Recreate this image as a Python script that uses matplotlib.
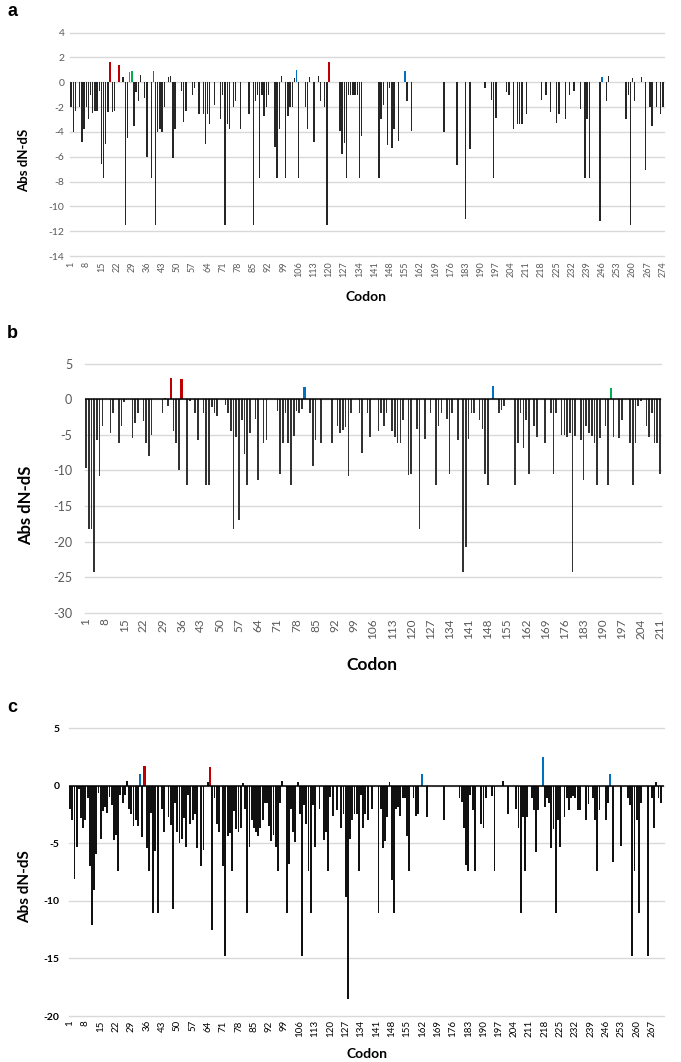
import numpy as np
import matplotlib.pyplot as plt

plt.rcParams['font.family'] = ['Lato', 'DejaVu Sans']
plt.rcParams['axes.unicode_minus'] = False

# ---- panel a: codon / Abs dN-dS (codons not listed have no bar) ----
a_codon = [
    1, 2, 3, 5, 6, 7, 8, 9, 10, 11,
    12, 13, 14, 15, 16, 17, 18, 19, 20, 21,
    23, 25, 26, 27, 28, 29, 30, 31, 32, 33,
    35, 36, 38, 39, 40, 41, 42, 43, 44, 46,
    47, 48, 49, 52, 53, 54, 57, 58, 60, 62,
    63, 64, 65, 67, 70, 71, 72, 73, 74, 76,
    77, 79, 83, 85, 86, 87, 88, 89, 90, 91,
    92, 95, 96, 97, 98, 100, 101, 102, 103, 104,
    105, 106, 109, 110, 111, 113, 115, 116, 118, 119,
    120, 125, 126, 127, 128, 129, 130, 131, 132, 133,
    134, 135, 143, 144, 145, 147, 148, 149, 150, 152,
    155, 156, 158, 173, 179, 183, 185, 192, 195, 196,
    197, 202, 203, 205, 207, 208, 209, 211, 218, 220,
    222, 225, 226, 229, 231, 233, 236, 238, 239, 240,
    245, 246, 248, 249, 257, 258, 259, 260, 261, 264,
    266, 268, 269, 271, 273, 274]
a_value = [
    -2.0, -4.0, -2.3, -2.0, -4.8, -3.8, -2.0, -3.0, -1.0, -2.5,
    -2.3, -2.3, -0.7, -6.6, -7.7, -5.0, -2.4, 1.6, -2.4, -2.3,
    1.4, 0.4, -11.5, -4.5, 0.8, 0.9, -3.5, -0.8, -1.5, 0.6,
    -1.3, -6.0, -7.7, 0.9, -11.5, -4.0, -3.8, -4.0, -2.0, 0.4,
    0.5, -6.1, -3.8, -0.7, -3.2, -2.3, -1.0, -0.5, -2.6, -2.6,
    -5.0, -2.6, -3.4, -1.8, -3.0, -1.0, -11.5, -3.4, -3.8, -2.0,
    -1.5, -3.8, -2.6, -11.5, -1.5, -1.0, -7.7, -1.0, -2.7, -2.0,
    -1.0, -5.2, -7.7, -3.8, 0.5, -7.7, -2.7, -2.0, -2.0, 0.3,
    1.0, -7.7, -2.0, -3.8, 0.4, -4.8, 0.5, -1.5, -2.0, -11.5,
    1.6, -3.9, -5.8, -4.9, -7.7, -1.0, -1.0, -1.0, -1.0, -1.0,
    -7.7, -4.3, -7.7, -3.0, -1.8, -5.1, -0.5, -5.3, -3.8, -4.7,
    0.9, -1.5, -3.9, -4.0, -6.7, -11.0, -5.4, -0.5, -1.4, -7.7,
    -2.9, -0.8, -1.0, -3.8, -3.4, -3.4, -3.4, -2.6, -1.4, -1.0,
    -2.4, -3.3, -2.6, -3.0, -1.0, -0.7, -2.2, -7.7, -3.0, -7.7,
    -11.2, 0.4, -1.5, 0.5, -3.0, -1.0, -11.5, 0.3, -1.5, 0.4,
    -7.1, -2.0, -3.5, -2.0, -2.6, -2.0]
a_red = [19, 23, 120]
a_green = [28, 29]
a_blue = [39, 105, 155, 246]

# ---- panel b ----
b_codon = [
    1, 2, 3, 4, 5, 6, 7, 10, 11, 13,
    14, 15, 18, 19, 20, 22, 23, 24, 25, 29,
    30, 31, 32, 33, 34, 35, 36, 38, 39, 41,
    42, 44, 45, 46, 47, 48, 49, 52, 53, 54,
    55, 56, 57, 58, 59, 60, 61, 63, 64, 66,
    67, 71, 72, 73, 74, 75, 76, 77, 78, 79,
    80, 81, 83, 84, 85, 87, 91, 93, 94, 95,
    96, 97, 98, 101, 102, 104, 105, 108, 109, 110,
    111, 113, 114, 115, 116, 117, 119, 120, 122, 123,
    125, 127, 129, 130, 131, 133, 134, 135, 137, 139,
    140, 141, 142, 143, 145, 146, 147, 148, 150, 152,
    153, 154, 158, 159, 160, 161, 162, 163, 165, 166,
    169, 171, 172, 173, 175, 176, 177, 178, 179, 180,
    182, 183, 184, 185, 186, 187, 188, 189, 191, 192,
    193, 194, 196, 197, 200, 201, 202, 203, 204, 206,
    207, 208, 209, 210, 211]
b_value = [
    -9.6, -18.2, -18.2, -24.3, -5.7, -10.8, -3.8, -4.8, -2.0, -6.1,
    -3.8, -0.4, -5.5, -3.3, -2.0, -3.0, -6.1, -8.0, -5.0, -2.0,
    0.2, -1.0, 3.0, -4.5, -6.1, -10.0, 2.8, -12.1, -0.2, -2.0,
    -5.7, -2.0, -12.1, -12.1, -1.1, -2.0, -2.3, -0.8, -2.0, -4.4,
    -18.2, -5.3, -17.0, -2.9, -7.7, -12.1, -4.7, -2.8, -11.4, -6.1,
    -5.7, -1.6, -10.5, -6.1, -2.0, -6.1, -12.1, -5.2, -1.6, -2.0,
    -1.4, 1.7, -2.0, -9.4, -5.7, -6.1, -6.1, -3.8, -4.7, -4.3,
    -3.9, -10.8, -2.0, -2.0, -7.6, -2.0, -5.3, -4.4, -2.0, -3.8,
    -2.0, -4.4, -5.3, -6.1, -6.1, -2.9, -10.7, -10.5, -4.2, -18.2,
    -5.6, -2.0, -12.1, -3.8, -2.0, -2.8, -10.5, -2.0, -5.7, -24.3,
    -20.7, -5.6, -2.0, -2.0, -2.9, -4.2, -10.5, -12.1, 1.9, -2.0,
    -1.5, -0.9, -12.1, -6.1, -2.0, -6.9, -2.9, -10.5, -3.8, -5.3,
    -6.1, -2.0, -10.5, -2.0, -5.0, -5.0, -5.3, -4.8, -24.3, -5.2,
    -5.7, -11.4, -3.8, -4.7, -5.2, -6.1, -12.1, -5.5, -3.8, -12.1,
    1.5, -5.3, -5.5, -2.9, -6.1, -12.1, -6.1, -0.9, -0.2, -3.8,
    -5.3, -2.0, -6.1, -6.1, -10.5]
b_red = [32, 36]
b_green = [193]
b_blue = [81, 150]

# ---- panel c ----
c_codon = [
    1, 2, 3, 4, 5, 6, 7, 8, 9, 10,
    11, 12, 13, 14, 15, 16, 17, 18, 19, 20,
    21, 22, 23, 24, 25, 26, 27, 28, 29, 30,
    31, 32, 33, 34, 35, 36, 37, 38, 39, 40,
    41, 43, 44, 46, 47, 48, 49, 50, 51, 52,
    53, 54, 55, 56, 57, 58, 59, 61, 62, 64,
    65, 66, 67, 68, 69, 71, 72, 73, 74, 75,
    76, 77, 78, 79, 80, 81, 82, 83, 84, 85,
    86, 87, 88, 89, 90, 91, 92, 93, 94, 95,
    96, 97, 98, 100, 101, 102, 103, 104, 105, 106,
    107, 108, 109, 110, 111, 112, 113, 115, 117, 118,
    119, 120, 121, 123, 125, 126, 127, 128, 129, 130,
    131, 132, 133, 134, 135, 136, 137, 139, 142, 143,
    144, 145, 146, 147, 148, 149, 150, 151, 152, 153,
    154, 155, 156, 158, 159, 160, 162, 164, 172, 179,
    180, 181, 182, 183, 184, 185, 186, 189, 190, 191,
    194, 195, 199, 201, 205, 206, 207, 208, 209, 210,
    212, 213, 214, 215, 217, 218, 219, 220, 221, 222,
    223, 224, 225, 227, 228, 229, 230, 231, 232, 233,
    234, 237, 238, 240, 241, 242, 243, 246, 247, 248,
    249, 253, 256, 257, 258, 259, 260, 261, 262, 265,
    267, 268, 269, 270, 271]
c_value = [
    -2.0, -3.0, -8.1, -5.3, -0.3, -2.8, -3.7, -3.0, -1.1, -7.0,
    -12.1, -9.1, -5.9, -0.6, -4.6, -2.2, -1.9, -2.4, -1.0, -1.7,
    -4.7, -4.3, -7.4, -0.8, -1.5, -0.8, 0.4, -2.0, -2.5, -3.5,
    -3.0, -3.5, 1.0, -4.5, 1.7, -5.4, -7.4, -2.4, -11.1, -5.7,
    -11.1, -2.0, -4.0, -2.7, -3.4, -10.7, -1.5, -4.0, -5.0, -4.6,
    -2.8, -5.3, -0.8, -3.3, -3.0, -2.5, -5.4, -7.0, -5.6, 0.3,
    1.6, -12.5, -1.1, -3.3, -4.0, -7.0, -14.8, -4.4, -4.1, -7.4,
    -2.2, -3.8, -4.0, -3.7, 0.2, -2.0, -11.1, -5.3, -3.0, -3.7,
    -4.0, -4.4, -3.7, -3.0, -1.5, -1.5, -3.5, -4.8, -4.3, -5.3,
    -7.4, -1.5, 0.4, -11.1, -6.8, -2.0, -4.0, -4.9, 0.3, -2.5,
    -14.8, -1.7, -3.3, -7.4, -11.1, -1.7, -5.3, -2.0, -4.7, -4.0,
    -7.4, -1.0, -2.6, -2.1, -3.7, -2.5, -9.7, -18.5, -4.6, -3.0,
    -2.5, -2.5, -7.4, -0.8, -3.7, -2.5, -3.0, -2.0, -11.1, -2.0,
    -5.4, -4.8, -2.7, 0.3, -8.2, -11.1, -2.0, -1.9, -2.6, -1.1,
    -1.1, -4.4, -7.4, -1.1, -2.6, -2.5, 1.0, -2.7, -3.0, -1.1,
    -1.4, -3.7, -6.9, -7.4, -0.8, -2.1, -7.4, -3.3, -3.7, -1.1,
    -0.9, -7.4, 0.4, -2.5, -2.0, -3.7, -11.1, -2.7, -7.4, -2.7,
    -1.1, -2.1, -5.8, -2.1, 2.5, -1.9, -1.1, -1.5, -5.4, -3.8,
    -11.1, -3.0, -5.3, -2.7, -1.1, -2.1, -1.1, -0.9, -1.1, -2.1,
    -2.1, -3.0, -1.6, -1.1, -3.0, -7.4, -2.1, -3.0, -1.5, 1.0,
    -6.6, -5.2, -1.1, -1.7, -14.8, -7.4, -3.0, -11.1, -1.5, -14.8,
    -1.1, -3.7, 0.3, -1.1, -1.5]
c_red = [35, 65]
c_green = []
c_blue = [33, 162, 217, 248]

assert len(a_codon) == len(a_value)
assert len(b_codon) == len(b_value)
assert len(c_codon) == len(c_value)

W, H = 681, 1062
fig = plt.figure(figsize=(W / 100, H / 100), dpi=100)


# axes placed by pixel box (left, top, right, bottom)
def px_axes(left, top, right, bottom):
    return fig.add_axes([left / W, 1 - bottom / H, (right - left) / W, (bottom - top) / H])


def px_text(x, y, s, **kw):
    fig.text(x / W, 1 - y / H, s, **kw)


# colour and width of each bar: highlighted codons are coloured and a bit wider
def bar_style(codons, red, green, blue, base, width, hi_width):
    cols, widths = [], []
    for c in codons:
        if c in red:
            cols.append('#c00000')
        elif c in green:
            cols.append('#00b050')
        elif c in blue:
            cols.append('#0070c0')
        else:
            cols.append(base)
            widths.append(width)
            continue
        widths.append(hi_width)
    return cols, widths


def draw_panel(ax, codon, value, n, ymin, ymax, ystep, style,
               tick_color, ytick_size, xtick_size, zero_black, ypad, xpad):
    cols, widths = style
    ax.bar(codon, value, width=widths, color=cols, zorder=3, linewidth=0)
    ax.set_xlim(0.5, n + 0.5)
    ax.set_ylim(ymin, ymax)
    ax.set_yticks(np.arange(ymin, ymax + 0.01, ystep))
    ax.grid(axis='y', color='#d9d9d9', linewidth=1.0, zorder=0)
    for gl in ax.get_ygridlines():
        gl.set_clip_on(False)
    for s in ax.spines.values():
        s.set_visible(False)
    if zero_black:
        ax.axhline(0, color='black', linewidth=1.1, zorder=4)
    ticks = list(range(1, n + 1, 7))
    ax.set_xticks(ticks)
    ax.set_xticklabels([str(t) for t in ticks], rotation=90, fontsize=xtick_size,
                       color=tick_color)
    ax.set_yticklabels([str(int(v)) for v in ax.get_yticks()], fontsize=ytick_size,
                       color=tick_color)
    ax.tick_params(axis='both', length=0)
    ax.tick_params(axis='y', pad=ypad)
    ax.tick_params(axis='x', pad=xpad)


# panel a
ax_a = px_axes(70, 32.5, 664, 256)
draw_panel(ax_a, a_codon, a_value, 274, -14, 4, 2,
           bar_style(a_codon, a_red, a_green, a_blue, '#262626', 0.6, 0.8),
           '#595959', 7.5, 6.5, False, 4, 4)
px_text(12, 11, 'a', fontsize=13, fontweight='bold', family='Liberation Sans', ha='center', va='center')
px_text(24, 160, 'Abs dN-dS', fontsize=9.5, fontweight='bold', rotation=90, ha='center', va='center')
px_text(366, 297, 'Codon', fontsize=10, fontweight='bold', ha='center', va='center')

# panel b
ax_b = px_axes(84.6, 363.5, 661.4, 613)
draw_panel(ax_b, b_codon, b_value, 211, -30, 5, 5,
           bar_style(b_codon, b_red, b_green, b_blue, '#333333', 0.6, 0.85),
           '#595959', 9, 8.5, True, 9, 4)
px_text(12, 334, 'b', fontsize=13, fontweight='bold', family='Liberation Sans', ha='center', va='center')
px_text(26, 505, 'Abs dN-dS', fontsize=12, fontweight='bold', rotation=90, ha='center', va='center')
px_text(372, 665, 'Codon', fontsize=12.5, fontweight='bold', ha='center', va='center')

# panel c
ax_c = px_axes(69, 728, 664, 1016)
draw_panel(ax_c, c_codon, c_value, 272, -20, 5, 5,
           bar_style(c_codon, c_red, c_green, c_blue, '#111111', 0.85, 0.95),
           'black', 7.5, 7, True, 7, 3)
for lab in ax_c.get_yticklabels():
    lab.set_fontweight('bold')
px_text(12, 707, 'c', fontsize=13, fontweight='bold', family='Liberation Sans', ha='center', va='center')
px_text(25, 887, 'Abs dN-dS', fontsize=11, fontweight='bold', rotation=90, ha='center', va='center')
px_text(367, 1054, 'Codon', fontsize=10, fontweight='bold', ha='center', va='center')

fig.savefig('out.png', dpi=100)
